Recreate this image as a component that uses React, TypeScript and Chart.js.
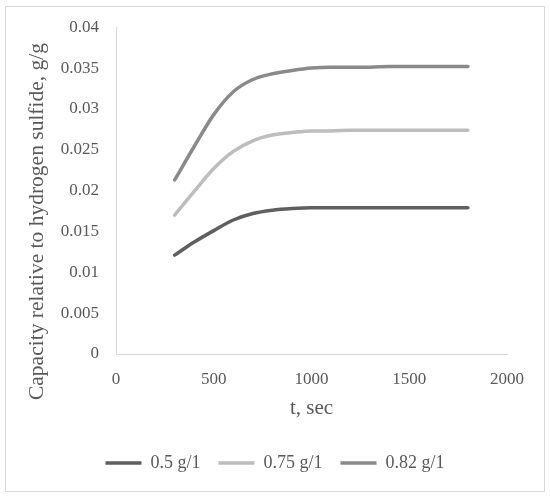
import React, { useEffect, useRef } from "react";
import { Chart, registerables } from "chart.js";

Chart.register(...registerables);

const timeSec = [300, 400, 500, 600, 700, 800, 900, 1000, 1100, 1200, 1300, 1400, 1500, 1600, 1700, 1800];
const series05 = [0.0121, 0.0137, 0.0151, 0.0164, 0.0172, 0.0176, 0.0178, 0.0179, 0.0179, 0.0179, 0.0179, 0.0179, 0.0179, 0.0179, 0.0179, 0.0179];
const series075 = [0.017, 0.0199, 0.0227, 0.0248, 0.0261, 0.0268, 0.0271, 0.0273, 0.0273, 0.0274, 0.0274, 0.0274, 0.0274, 0.0274, 0.0274, 0.0274];
const series082 = [0.0213, 0.0254, 0.0293, 0.0321, 0.0336, 0.0343, 0.0347, 0.035, 0.0351, 0.0351, 0.0351, 0.0352, 0.0352, 0.0352, 0.0352, 0.0352];
const seriesLabels = ["0.5 g/1", "0.75 g/1", "0.82 g/1"];
const seriesColors = ["#5f5f5f", "#bdbdbd", "#8a8a8a"];
const yTickLabels = ["0", "0.005", "0.01", "0.015", "0.02", "0.025", "0.03", "0.035", "0.04"];
const xTickLabels = ["0", "500", "1000", "1500", "2000"];
const yTitle = "Capacity relative to hydrogen sulfide, g/g";
const xTitle = "t, sec";

const FONT = "'Liberation Serif', 'Times New Roman', serif";
const TEXT = "#595959";

export default function App() {
  const ref = useRef<HTMLCanvasElement | null>(null);

  useEffect(() => {
    if (!ref.current) return;
    const toPts = (vals: number[]) => vals.map((v, i) => ({ x: timeSec[i], y: v }));
    const allSeries = [series05, series075, series082];

    const yTitlePlugin = {
      id: "yTitle",
      afterDraw(chart: any) {
        const ctx = chart.ctx;
        ctx.save();
        ctx.translate(37, 221.5);
        ctx.rotate(-Math.PI / 2);
        ctx.font = `21.5px ${FONT}`;
        ctx.fillStyle = TEXT;
        ctx.textAlign = "center";
        ctx.textBaseline = "middle";
        ctx.fillText(yTitle, 0, 0);
        ctx.restore();
      },
    };

    const chart = new Chart(ref.current, {
      type: "line",
      data: {
        datasets: allSeries.map((s, i) => ({
          label: seriesLabels[i],
          data: toPts(s),
          borderColor: seriesColors[i],
          backgroundColor: seriesColors[i],
          borderWidth: 3.5,
          borderCapStyle: "round" as const,
          borderJoinStyle: "round" as const,
          pointRadius: 0,
          pointHoverRadius: 0,
          cubicInterpolationMode: "monotone" as const,
          fill: false,
        })),
      },
      options: {
        animation: false,
        responsive: true,
        maintainAspectRatio: false,
        layout: { padding: { top: 27, left: 0, right: 0, bottom: 15 } },
        plugins: {
          tooltip: { enabled: false },
          legend: {
            position: "bottom",
            labels: {
              font: { family: FONT, size: 18 },
              color: TEXT,
              usePointStyle: true,
              pointStyle: "line",
              pointStyleWidth: 36,
              padding: 18,
            },
          },
        },
        scales: {
          x: {
            type: "linear",
            min: 0,
            max: 2000,
            afterFit: (s: any) => {
              s.height = 82;
            },
            grid: { display: false, drawTicks: false },
            border: { display: true, color: "#d9d9d9", width: 1 },
            ticks: {
              stepSize: 500,
              padding: 15,
              color: TEXT,
              font: { family: FONT, size: 17 },
              maxRotation: 0,
              callback: (_v: any, i: number) => xTickLabels[i],
            },
            title: {
              display: true,
              text: xTitle,
              color: TEXT,
              font: { family: FONT, size: 21 },
              padding: { top: 0, bottom: 15 },
            },
          },
          y: {
            type: "linear",
            min: 0,
            max: 0.04,
            afterFit: (s: any) => {
              s.width = 116;
            },
            grid: { display: false, drawTicks: false },
            border: { display: true, color: "#d9d9d9", width: 1 },
            ticks: {
              stepSize: 0.005,
              padding: 17,
              color: TEXT,
              font: { family: FONT, size: 17 },
              callback: (_v: any, i: number) => yTickLabels[i],
            },
          },
          yRight: {
            type: "linear",
            position: "right",
            display: true,
            afterFit: (s: any) => {
              s.width = 43;
            },
            grid: { display: false, drawTicks: false },
            border: { display: false },
            ticks: { display: false },
          },
        },
      },
      plugins: [yTitlePlugin],
    });
    return () => chart.destroy();
  }, []);

  return (
    <div style={{ position: "absolute", left: 0, top: 0, width: 550, height: 497, background: "#fff" }}>
      <div
        style={{
          position: "absolute",
          left: 5,
          top: 6,
          width: 540,
          height: 486,
          boxSizing: "border-box",
          border: "1px solid #d9d9d9",
        }}
      />
      <div style={{ position: "absolute", left: 0, top: 0, width: 550, height: 497 }}>
        <canvas ref={ref} />
      </div>
    </div>
  );
}
